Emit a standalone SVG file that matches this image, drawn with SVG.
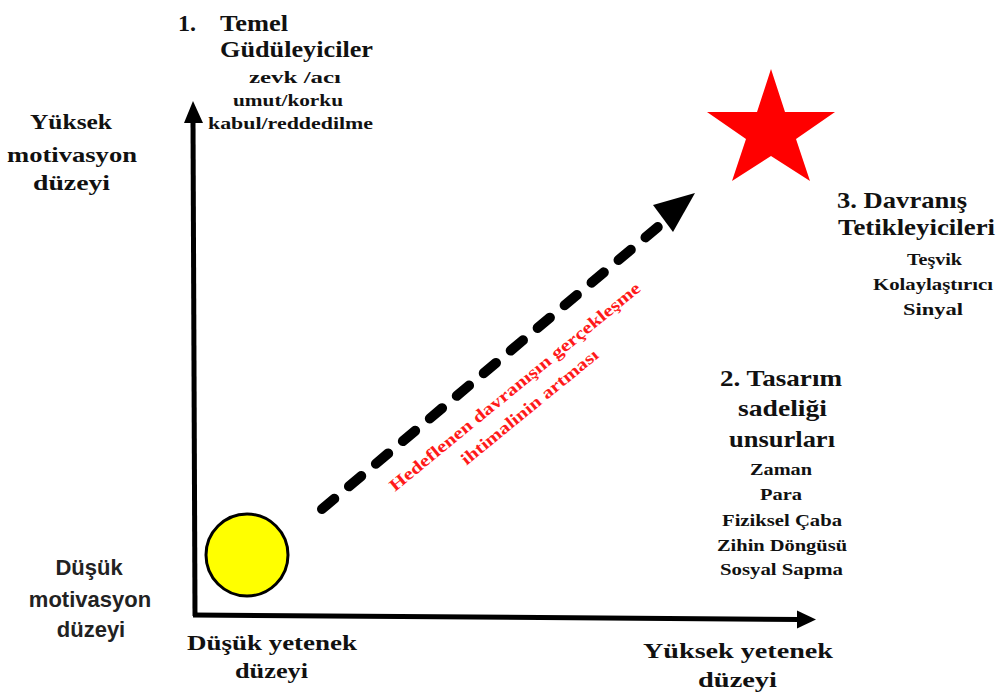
<svg xmlns="http://www.w3.org/2000/svg" width="1001" height="694" viewBox="0 0 1001 694">
<style>
.t{font-family:"Liberation Serif","Times New Roman",serif;font-weight:bold;fill:#111;}
.big{font-size:24px;}
.mid{font-size:22px;}
.sm{font-size:16px;}
.sans{font-family:"Liberation Sans",Arial,sans-serif;font-weight:bold;font-size:22px;fill:#222;text-anchor:middle;}
.red{font-family:"Liberation Serif","Times New Roman",serif;font-weight:bold;font-size:17px;fill:#ff1a1a;}
</style>
<rect width="1001" height="694" fill="#ffffff"/>
<g id="connectors">
  <g id="y-axis">
    <line x1="193" y1="120" x2="195" y2="616" stroke="#000" stroke-width="5"/>
    <polygon points="193,101 184,123 203,123" fill="#000"/>
  </g>
  <g id="x-axis">
    <line x1="193" y1="615" x2="800" y2="619.5" stroke="#000" stroke-width="5"/>
    <polygon points="816,619.5 797,610.5 797,628.5" fill="#000"/>
  </g>
  <g id="trend-arrow">
    <line x1="322" y1="509" x2="665" y2="221" stroke="#000" stroke-width="10" stroke-linecap="round" stroke-dasharray="16 19.2"/>
    <polygon points="695,193 653,205 673,232" fill="#000"/>
  </g>
</g>
<g id="trend-label">
  <g transform="translate(395,492) rotate(-39.3)">
    <text class="red" x="0" y="0" textLength="319" lengthAdjust="spacingAndGlyphs">Hedeflenen davranışın gerçekleşme</text>
    <text class="red" x="72" y="25" textLength="172" lengthAdjust="spacingAndGlyphs">ihtimalinin artması</text>
  </g>
</g>
<g id="start-circle">
  <circle cx="247" cy="555" r="41" fill="#ffff00" stroke="#000" stroke-width="3"/>
</g>
<g id="goal-star">
  <polygon points="771,69 785,112 835,112 796,139 810,181 771,156 732,181 746,139 707,112 757,112" fill="#ff0000"/>
</g>
<g id="node-motivators">
  <text class="t big" x="178" y="31">1.</text>
  <text class="t big" x="220" y="31" textLength="68" lengthAdjust="spacingAndGlyphs">Temel</text>
  <text class="t big" x="220" y="57" textLength="153" lengthAdjust="spacingAndGlyphs">Güdüleyiciler</text>
  <text class="t sm" x="249" y="83" textLength="92" lengthAdjust="spacingAndGlyphs">zevk /acı</text>
  <text class="t sm" x="233" y="106" textLength="110" lengthAdjust="spacingAndGlyphs">umut/korku</text>
  <text class="t sm" x="208" y="129" textLength="165" lengthAdjust="spacingAndGlyphs">kabul/reddedilme</text>
</g>
<g id="label-high-motivation">
  <text class="t mid" x="30" y="129" textLength="82" lengthAdjust="spacingAndGlyphs">Yüksek</text>
  <text class="t mid" x="7" y="162" textLength="130" lengthAdjust="spacingAndGlyphs">motivasyon</text>
  <text class="t mid" x="33" y="190" textLength="77" lengthAdjust="spacingAndGlyphs">düzeyi</text>
</g>
<g id="node-triggers">
  <text class="t big" x="837" y="208" textLength="130" lengthAdjust="spacingAndGlyphs">3. Davranış</text>
  <text class="t big" x="838" y="235" textLength="157" lengthAdjust="spacingAndGlyphs">Tetikleyicileri</text>
  <text class="t sm" x="907" y="265" textLength="55" lengthAdjust="spacingAndGlyphs">Teşvik</text>
  <text class="t sm" x="873" y="290" textLength="120" lengthAdjust="spacingAndGlyphs">Kolaylaştırıcı</text>
  <text class="t sm" x="903" y="315" textLength="60" lengthAdjust="spacingAndGlyphs">Sinyal</text>
</g>
<g id="node-simplicity">
  <text class="t big" x="720" y="386" textLength="122" lengthAdjust="spacingAndGlyphs">2. Tasarım</text>
  <text class="t big" x="738" y="416" textLength="89" lengthAdjust="spacingAndGlyphs">sadeliği</text>
  <text class="t big" x="729" y="447" textLength="106" lengthAdjust="spacingAndGlyphs">unsurları</text>
  <text class="t sm" x="750" y="475" textLength="62" lengthAdjust="spacingAndGlyphs">Zaman</text>
  <text class="t sm" x="760" y="500" textLength="42" lengthAdjust="spacingAndGlyphs">Para</text>
  <text class="t sm" x="722" y="526" textLength="120" lengthAdjust="spacingAndGlyphs">Fiziksel Çaba</text>
  <text class="t sm" x="717" y="551" textLength="130" lengthAdjust="spacingAndGlyphs">Zihin Döngüsü</text>
  <text class="t sm" x="720" y="575" textLength="123" lengthAdjust="spacingAndGlyphs">Sosyal Sapma</text>
</g>
<g id="label-low-motivation">
  <text class="sans" x="89" y="575">Düşük</text>
  <text class="sans" x="90" y="607">motivasyon</text>
  <text class="sans" x="91" y="637">düzeyi</text>
</g>
<g id="label-low-ability">
  <text class="t mid" x="187" y="650" textLength="170" lengthAdjust="spacingAndGlyphs">Düşük yetenek</text>
  <text class="t mid" x="235" y="678" textLength="73" lengthAdjust="spacingAndGlyphs">düzeyi</text>
</g>
<g id="label-high-ability">
  <text class="t mid" x="643" y="658" textLength="190" lengthAdjust="spacingAndGlyphs">Yüksek yetenek</text>
  <text class="t mid" x="698" y="687" textLength="79" lengthAdjust="spacingAndGlyphs">düzeyi</text>
</g>
</svg>
